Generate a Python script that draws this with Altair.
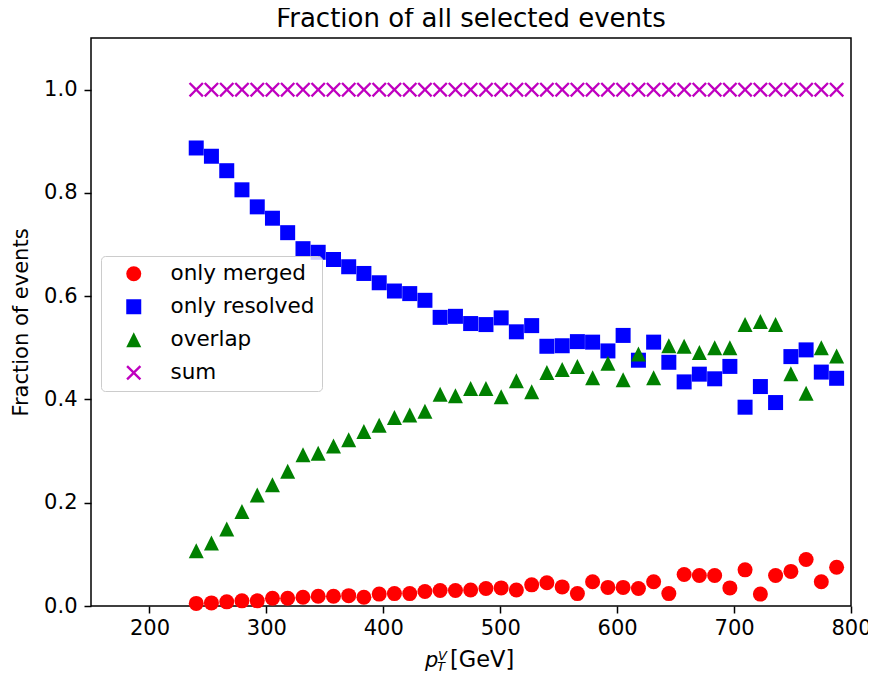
import altair as alt
import pandas as pd

# ---- data ----
pt = [240.0, 253.0, 266.1, 279.1, 292.2, 305.2, 318.2, 331.3, 344.3, 357.4,
      370.4, 383.4, 396.5, 409.5, 422.6, 435.6, 448.6, 461.7, 474.7, 487.8,
      500.8, 513.8, 526.9, 539.9, 553.0, 566.0, 579.0, 592.1, 605.1, 618.2,
      631.2, 644.2, 657.3, 670.3, 683.4, 696.4, 709.4, 722.5, 735.5, 748.6,
      761.6, 774.6, 787.7]

only_merged = [0.005, 0.006, 0.008, 0.010, 0.010, 0.015, 0.015, 0.017, 0.019, 0.019,
               0.020, 0.017, 0.023, 0.024, 0.024, 0.028, 0.030, 0.030, 0.031, 0.034,
               0.035, 0.031, 0.041, 0.045, 0.037, 0.024, 0.047, 0.036, 0.036, 0.034,
               0.047, 0.024, 0.061, 0.059, 0.059, 0.035, 0.070, 0.023, 0.059, 0.067,
               0.090, 0.047, 0.075]

only_resolved = [0.887, 0.871, 0.843, 0.806, 0.773, 0.751, 0.723, 0.692, 0.685, 0.671,
                 0.657, 0.644, 0.626, 0.610, 0.605, 0.592, 0.559, 0.561, 0.547, 0.545,
                 0.558, 0.531, 0.543, 0.503, 0.504, 0.512, 0.511, 0.494, 0.524, 0.476,
                 0.511, 0.472, 0.434, 0.449, 0.440, 0.464, 0.385, 0.425, 0.394, 0.483,
                 0.496, 0.453, 0.441]

overlap = [0.107, 0.122, 0.149, 0.183, 0.215, 0.235, 0.261, 0.293, 0.296, 0.310,
           0.322, 0.338, 0.350, 0.365, 0.370, 0.377, 0.410, 0.407, 0.421, 0.421,
           0.405, 0.436, 0.415, 0.452, 0.458, 0.464, 0.442, 0.470, 0.438, 0.488,
           0.442, 0.504, 0.503, 0.491, 0.500, 0.500, 0.545, 0.551, 0.545, 0.450,
           0.412, 0.500, 0.484]

total = [1.0, 1.0, 1.0, 1.0, 1.0, 1.0, 1.0, 1.0, 1.0, 1.0,
         1.0, 1.0, 1.0, 1.0, 1.0, 1.0, 1.0, 1.0, 1.0, 1.0,
         1.0, 1.0, 1.0, 1.0, 1.0, 1.0, 1.0, 1.0, 1.0, 1.0,
         1.0, 1.0, 1.0, 1.0, 1.0, 1.0, 1.0, 1.0, 1.0, 1.0,
         1.0, 1.0, 1.0]

series_names = ["only merged", "only resolved", "overlap", "sum"]
series_colors = ["#ff0000", "#0000ff", "#008000", "#bf00bf"]
x_ticks = [200, 300, 400, 500, 600, 700, 800]
y_ticks = [0.0, 0.2, 0.4, 0.6, 0.8, 1.0]

rows = []
for name, vals in zip(series_names, [only_merged, only_resolved, overlap, total]):
    for x, v in zip(pt, vals):
        rows.append({"pt": x, "frac": v, "series": name})
df = pd.DataFrame(rows)

FONT = "DejaVu Sans"
TRI = "M0,-1L1,1L-1,1Z"
XSHAPE = ("M-0.78,-1L0,-0.22L0.78,-1L1,-0.78L0.22,0L1,0.78L0.78,1L0,0.22"
          "L-0.78,1L-1,0.78L-0.22,0L-1,-0.78Z")

legend = alt.Legend(
    title=None, orient="none", legendX=10, legendY=218,
    padding=7, symbolOffset=15, labelOffset=26, rowPadding=10,
    symbolSize=225, symbolStrokeWidth=0,
    labelFont=FONT, labelFontSize=21.5, labelColor="black",
    strokeColor="#cccccc", fillColor="rgba(255,255,255,0.8)", cornerRadius=4,
)

points = alt.Chart(df).mark_point(filled=True, size=225, opacity=1).encode(
    x=alt.X("pt:Q",
            scale=alt.Scale(domain=[150, 800], nice=False, zero=False),
            axis=alt.Axis(values=x_ticks, title=None, grid=False, domain=False,
                          tickSize=7, tickWidth=1.5, tickColor="black",
                          labelFont=FONT, labelFontSize=21, labelColor="black",
                          labelPadding=4, labelFlush=False)),
    y=alt.Y("frac:Q",
            scale=alt.Scale(domain=[0, 1.1], nice=False),
            axis=alt.Axis(values=y_ticks, format=".1f", title="Fraction of events",
                          grid=False, domain=False,
                          tickSize=7, tickWidth=1.5, tickColor="black",
                          labelFont=FONT, labelFontSize=21, labelColor="black",
                          labelPadding=7, labelFlush=False,
                          titleFont=FONT, titleFontSize=21, titleFontWeight="normal",
                          titleColor="black", titleAngle=-90, titleAlign="center",
                          titleBaseline="alphabetic", titleX=-64, titleY=284)),
    color=alt.Color("series:N",
                    scale=alt.Scale(domain=series_names, range=series_colors),
                    legend=legend),
    shape=alt.Shape("series:N",
                    scale=alt.Scale(domain=series_names,
                                    range=["circle", "square", TRI, XSHAPE]),
                    legend=legend),
)

def label(txt, x, y, size, style="normal"):
    return alt.Chart(alt.Data(values=[{"t": txt}])).mark_text(
        text=txt, font=FONT, fontSize=size, fontStyle=style, color="black",
        align="left", baseline="alphabetic",
    ).encode(x=alt.value(x), y=alt.value(y))

xtitle = (label("p", 334, 629, 21, "italic")
          + label("V", 347, 622, 13, "italic")
          + label("T", 346, 633, 13, "italic")
          + label("[GeV]", 359, 629, 22.5))

chart = alt.layer(points, xtitle).properties(
    width=760, height=568,
    autosize="none",
    padding={"left": 83, "top": 30, "right": 17, "bottom": 66},
    title=alt.TitleParams(text="Fraction of all selected events", font=FONT,
                          fontSize=26, fontWeight="normal", color="black",
                          anchor="middle", offset=6),
).configure(background="white").configure_view(stroke="black", strokeWidth=1.5)

chart.save("out.html", embed_options={"renderer": "svg", "actions": False})
